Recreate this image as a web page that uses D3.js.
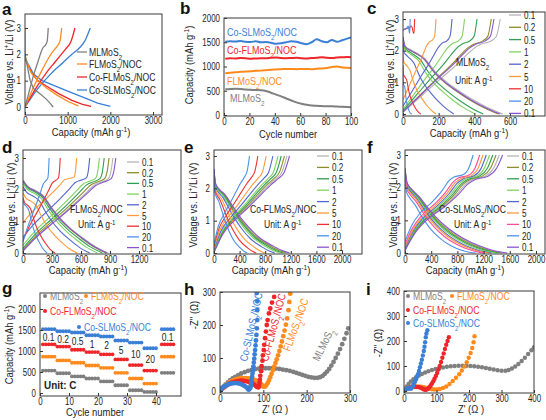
<!DOCTYPE html>
<html><head><meta charset="utf-8">
<script src="https://cdn.jsdelivr.net/npm/d3@7"></script>
<style>body{margin:0;background:#fff}svg{display:block}text{font-family:"Liberation Sans",Arial,sans-serif}</style>
</head><body><svg id="fig" width="546" height="420"></svg>
<script>
// ================= DATA =================
const matNames = ["MLMoS_2", "FLMoS_2/NOC", "Co-FLMoS_2/NOC", "Co-SLMoS_2/NOC"];
const matColors = ["#7f7f7f", "#ff8a1c", "#ee2529", "#3a7fd6"];

// panel a : first cycle discharge / charge (capacity mAh/g, voltage V)
const aDisML   = [[0,2.0],[60,1.5],[120,1.0],[200,0.7],[350,0.5],[500,0.3],[600,0.12],[660,0.0]];
const aDisFL   = [[0,3.0],[2,2.2],[6,1.9],[130,1.35],[300,1.0],[480,0.75],[750,0.45],[1020,0.2],[1250,0.04]];
const aDisCoFL = [[0,1.85],[150,1.3],[300,1.0],[500,0.8],[800,0.5],[1100,0.25],[1350,0.1],[1550,0.02]];
const aDisCoSL = [[0,1.85],[200,1.25],[400,1.0],[700,0.8],[1000,0.6],[1400,0.35],[1700,0.15],[2000,0.02]];
const aChgML   = [[0,0],[100,0.6],[200,1.2],[300,1.7],[380,2.1],[420,2.25],[480,2.35],[520,2.5],[545,3.0]];
const aChgFL   = [[0,0],[200,0.75],[400,1.4],[550,1.85],[650,2.1],[750,2.3],[820,2.5],[860,3.0]];
const aChgCoFL = [[0,0],[250,0.7],[500,1.3],[700,1.7],[850,2.0],[950,2.2],[1080,2.5],[1170,3.0]];
const aChgCoSL = [[0,0],[300,0.7],[600,1.25],[900,1.7],[1100,2.0],[1250,2.2],[1400,2.5],[1530,3.0]];

// panel b : cycling
const bCycles = [1,5,9,13,17,21,25,29,33,37,41,45,49,53,57,61,65,69,73,77,81,85,89,93,97,100];
const bML   = [530,535,540,535,525,520,515,510,495,460,420,385,340,300,260,230,210,195,190,185,180,180,175,170,165,160];
const bFL   = [860,870,880,890,895,900,910,915,925,935,940,945,950,950,945,950,950,945,955,960,970,990,1000,980,975,970];
const bCoFL = [1160,1170,1165,1175,1170,1160,1165,1170,1170,1180,1185,1175,1170,1175,1180,1170,1165,1175,1180,1190,1180,1175,1185,1190,1195,1190];
const bCoSL = [1510,1520,1515,1525,1510,1505,1520,1500,1505,1490,1470,1480,1500,1520,1510,1480,1460,1500,1560,1520,1500,1545,1510,1540,1575,1600];

// panels c-f : rate profiles
const rateLabels = ["0.1","0.2","0.5","1","2","5","10","20","0.1"];
const rateColors  = ["#b3b3b3","#8c8c2a","#2e9e52","#7fd35f","#5566cc","#ff9a3c","#ee3030","#4d92e6","#8a55cc"];
const rateColorsF = ["#b3b3b3","#8c8c2a","#2e9e52","#7fd35f","#5566cc","#ff9a3c","#ff4c9a","#4d92e6","#8a55cc"];

const cDisShape = [[0,2.45],[0.02,2.15],[0.08,2.02],[0.15,1.9],[0.22,1.75],[0.27,1.55],[0.32,1.35],[0.42,1.05],[0.55,0.75],[0.7,0.45],[0.85,0.2],[1,0]];
const cChgShape = [[0,0.05],[0.2,0.6],[0.4,1.15],[0.55,1.55],[0.65,1.85],[0.72,2.05],[0.8,2.2],[0.9,2.3],[0.96,2.45],[1,3.0]];
const cDisCap = [560,535,450,405,285,185,100,50,545];
const cChgCap = [545,495,415,345,275,185,65,40,510];
const cPolDis = [0,0.02,0.06,0.1,0.2,0.5,0.9,1.2,0.02];
const cPolChg = [0,0.02,0.06,0.1,0.2,0.4,2.6,2.6,0.02];

const dDisShape = [[0,2.3],[0.05,2.12],[0.15,1.97],[0.25,1.78],[0.32,1.5],[0.42,1.15],[0.55,0.8],[0.7,0.48],[0.85,0.2],[1,0]];
const dChgShape = [[0,0.05],[0.15,0.5],[0.35,1.0],[0.55,1.5],[0.7,1.9],[0.78,2.12],[0.88,2.25],[0.95,2.35],[0.98,2.6],[1,3.0]];
const dDisCap = [880,860,820,770,690,560,330,250,870];
const dChgCap = [930,890,840,790,690,555,385,270,960];
const dPolDis = [0,0.02,0.05,0.1,0.2,0.4,0.55,0.6,0.02];
const dPolChg = [0,0.05,0.1,0.2,0.45,0.9,0.35,0.3,0.02];

const eDisShape = [[0,2.6],[0.02,2.15],[0.07,1.97],[0.14,1.82],[0.22,1.55],[0.32,1.2],[0.45,0.82],[0.6,0.48],[0.78,0.22],[0.92,0.06],[1,0]];
const eChgShape = [[0,0.02],[0.12,0.6],[0.27,1.0],[0.45,1.4],[0.62,1.8],[0.75,2.1],[0.85,2.3],[0.93,2.5],[1,3.0]];
const eDisCap = [1160,1120,1080,1030,950,800,660,520,1180];
const eChgCap = [1140,1100,1050,1000,920,815,685,555,1180];
const ePolDis = [0,0.02,0.04,0.06,0.1,0.15,0.2,0.25,0];
const ePolChg = [0,0.02,0.04,0.06,0.1,0.15,0.2,0.25,0];

const fDisShape = [[0,2.6],[0.02,2.15],[0.06,1.97],[0.14,1.72],[0.24,1.32],[0.36,0.92],[0.5,0.58],[0.65,0.32],[0.8,0.14],[0.92,0.04],[1,0]];
const fChgShape = [[0,0.08],[0.1,0.6],[0.22,1.0],[0.4,1.4],[0.55,1.8],[0.64,2.1],[0.72,2.25],[0.85,2.35],[0.94,2.6],[1,3.0]];
const fDisCap = [1520,1480,1430,1380,1320,1280,1220,1080,1560];
const fChgCap = [1440,1390,1340,1290,1240,1190,1140,1040,1490];
const fPolDis = [0,0.02,0.03,0.05,0.08,0.12,0.18,0.28,0];
const fPolChg = [0,0.02,0.03,0.05,0.08,0.12,0.18,0.28,0];

// panel g : rate capability (C)
const gRates = ["0.1","0.2","0.5","1","2","5","10","20","0.1"];
const gStart = [1,6,11,16,21,26,31,36,42];
const gML   = [535,470,395,345,275,185,65,25,480];
const gFL   = [865,775,720,655,600,480,345,225,865];
const gCoFL = [1160,1105,1030,975,920,800,665,535,1160];
const gCoSL = [1520,1470,1440,1375,1345,1250,1200,1065,1520];

// panel h : Nyquist (Z', -Z'')
const hML = [[2,3],[5,8],[9,14],[13,20],[18,26],[23,32],[29,38],[35,43],[42,48],[49,53],[57,57],[65,61],[73,64],[81,66],[89,68],[97,69],[105,69],[113,69],[121,69],[129,68],[137,67],[145,65],[153,63],[161,61],[169,58],[176,55],[183,52],[190,49],[197,46],[204,43],[211,41],[218,40],[225,40],[231,42],[237,46],[242,52],[247,59],[252,67],[257,77],[262,88],[267,100],[272,113],[277,127],[282,142],[287,158],[292,175],[296,190]];
const hFL = [[1,2],[4,7],[8,12],[12,17],[16,21],[21,25],[26,29],[31,32],[36,35],[41,37],[46,38],[51,39],[56,39],[61,39],[66,38],[71,37],[76,35],[81,33],[86,30],[90,27],[93,23],[96,19],[98,15],[101,13],[104,14],[107,18],[110,24],[113,32],[116,42],[119,52],[122,63],[125,74],[128,85],[131,96],[134,108],[137,121],[140,135],[143,150],[146,166],[149,183],[152,201],[155,220],[158,245],[160,270],[162,295]];
const hCoFL = [[1,2],[4,6],[8,10],[12,14],[17,18],[22,22],[27,25],[32,27],[37,29],[42,30],[47,31],[52,31],[57,30],[62,29],[67,27],[72,25],[76,22],[80,19],[83,15],[86,12],[89,11],[90,16],[91,24],[92,34],[93,46],[95,60],[96,75],[98,92],[99,108],[101,124],[102,140],[104,160],[106,180],[108,200],[110,215],[113,235],[116,250],[120,268],[125,285]];
const hCoSL = [[1,2],[3,6],[6,10],[10,14],[14,17],[18,20],[23,22],[28,23],[33,24],[38,24],[43,23],[48,21],[53,18],[57,15],[61,11],[64,7],[66,4],[68,6],[70,10],[71,16],[72,24],[73,33],[74,43],[75,53],[76,63],[77,74],[78,86],[79,98],[80,111],[81,124],[82,138],[83,153],[84,170],[85,190],[86,215],[86,245],[86,272],[85,297]];

// panel i : Nyquist
const iML = [[3,8],[8,18],[14,28],[21,38],[29,47],[37,55],[46,62],[55,68],[65,74],[75,79],[86,84],[97,88],[108,91],[120,94],[132,97],[144,99],[156,100],[168,101],[180,101],[192,101],[204,100],[216,99],[228,97],[240,95],[252,92],[264,89],[276,86],[288,83],[300,81],[312,81],[322,84],[332,90],[342,98],[352,108],[362,120],[372,133],[382,148],[392,163],[400,175]];
const iFL = [[2,3],[8,8],[15,12],[22,15],[30,17],[38,18],[46,18],[54,17],[62,15],[70,12],[78,9],[86,7],[94,6],[102,6],[110,8],[120,12],[130,18],[140,28],[150,40],[160,53],[170,67],[178,82],[186,98],[193,115],[199,133],[205,152],[210,172],[214,195],[217,219]];
const iCoFL = [[2,3],[7,7],[13,11],[19,14],[26,16],[33,17],[40,16],[47,15],[53,12],[58,9],[62,6],[66,5],[70,6],[74,10],[78,15],[82,22],[86,30],[90,39],[94,49],[98,60],[102,72],[106,86],[110,100],[114,116],[118,133],[122,150],[126,168],[130,185],[134,200],[138,215]];
const iCoSL = [[1,2],[4,5],[8,8],[12,10],[16,11],[20,10],[22,10],[25,15],[28,22],[31,30],[34,38],[37,47],[40,57],[43,67],[46,80],[49,95],[52,110],[55,125],[58,142],[61,160],[63,177],[65,195],[67,215],[69,230],[72,243]];

// ================= DRAW =================
const SX = 0.82;      // horizontal squeeze of text (figure is condensed)
const SXT = 0.77;     // squeeze of tick labels
const TICKFS = 10.3;
const svg = d3.select("#fig");
let clipN = 0;

function rich(t, s) {
  const parts = s.split(/(_\{[^}]*\}|\^\{[^}]*\}|_.|\^.)/).filter(p => p.length);
  parts.forEach(p => {
    if (p[0] === "_" || p[0] === "^") {
      const body = p[1] === "{" ? p.slice(2, -1) : p.slice(1);
      t.append("tspan").attr("baseline-shift", p[0] === "_" ? "sub" : "super").attr("font-size", "70%").text(body);
    } else t.append("tspan").text(p);
  });
}
function txt(g, x, y, s, o = {}) {
  const grp = g.append("g").attr("transform", `translate(${x},${y}) rotate(${o.rot || 0}) scale(${o.sx ?? SX},1)`);
  const t = grp.append("text").attr("font-size", o.size || 11).attr("fill", o.fill || "#222")
    .attr("text-anchor", o.anchor || "start");
  if (o.weight) t.attr("font-weight", o.weight);
  if (o.family) t.attr("font-family", o.family);
  rich(t, s);
  return t;
}

function panel(o) {
  const g = svg.append("g");
  const x = d3.scaleLinear().domain([o.xc[0], o.xc[1]]).range([o.xc[2], o.xc[3]]);
  const y = d3.scaleLinear().domain([o.yc[0], o.yc[1]]).range([o.yc[2], o.yc[3]]);
  const [bx0, bx1, by0, by1] = o.box;
  const id = "clip" + (clipN++);
  svg.append("clipPath").attr("id", id).append("rect")
    .attr("x", bx0).attr("y", by0).attr("width", bx1 - bx0).attr("height", by1 - by0);
  const plot = g.append("g").attr("clip-path", `url(#${id})`);
  const xa = g.append("g").attr("transform", `translate(0,${by1})`)
    .call(d3.axisBottom(x).tickValues(o.xTicks).tickSize(-3).tickPadding(2).tickFormat(d3.format("d")));
  const ya = g.append("g").attr("transform", `translate(${bx0},0)`)
    .call(d3.axisLeft(y).tickValues(o.yTicks).tickSize(-3).tickPadding(3).tickFormat(d3.format("d")));
  [xa, ya].forEach(a => {
    a.select(".domain").remove();
    a.attr("font-size", TICKFS).attr("font-family", null);
    a.selectAll(".tick line").attr("stroke", "#333");
    a.selectAll(".tick text").attr("fill", "#222").attr("transform", `scale(${SXT},1)`);
  });
  ya.selectAll(".tick text").attr("x", -4 / SXT);
  g.append("rect").attr("x", bx0).attr("y", by0).attr("width", bx1 - bx0).attr("height", by1 - by0)
    .attr("fill", "none").attr("stroke", "#3a3a3a").attr("stroke-width", 1);
  if (o.xTitle) txt(g, o.xTitle[0], o.xTitle[1], o.xTitle[2], { anchor: "middle", size: 11.5 });
  if (o.yTitle) txt(g, o.yTitle[0], o.yTitle[1], o.yTitle[2], { anchor: "middle", size: 11.5, rot: -90 });
  if (o.letter) g.append("text").attr("x", o.letter[0]).attr("y", o.letter[1]).attr("font-size", 17)
    .attr("font-weight", "bold").attr("fill", "#111").text(o.letter[2]);
  return { g, plot, x, y };
}

const line = (P, curve) => d3.line().x(d => P.x(d[0])).y(d => P.y(d[1])).curve(curve || d3.curveMonotoneX);
const VTITLE = "Voltage vs. Li^+/Li (V)";
const CTITLE = "Capacity (mAh g^{-1})";

// ---------- a ----------
{
  const P = panel({ box: [25, 162, 14, 115], xc: [0, 3000, 25, 153], yc: [0, 3, 107, 28],
    xTicks: [0, 1000, 2000, 3000], yTicks: [0, 1, 2, 3],
    xTitle: [91, 136, CTITLE], yTitle: [13, 62, VTITLE], letter: [2, 15, "a"] });
  const dis = [aDisML, aDisFL, aDisCoFL, aDisCoSL], chg = [aChgML, aChgFL, aChgCoFL, aChgCoSL];
  [3, 2, 1, 0].forEach(k => {
    P.plot.append("path").attr("d", line(P, d3.curveLinear)(dis[k])).attr("fill", "none").attr("stroke", matColors[k]).attr("stroke-width", 1.3);
    P.plot.append("path").attr("d", line(P)(chg[k])).attr("fill", "none").attr("stroke", matColors[k]).attr("stroke-width", 1.3);
  });
  const ly = [52, 64, 77, 90];
  matNames.forEach((n, k) => {
    P.g.append("line").attr("x1", 77).attr("x2", 87).attr("y1", ly[k]).attr("y2", ly[k]).attr("stroke", matColors[k]).attr("stroke-width", 1.3);
    txt(P.g, 89, ly[k] + 4, n, { size: 10.5 });
  });
}

// ---------- b ----------
{
  const P = panel({ box: [224, 351, 18, 116], xc: [0, 100, 224, 351], yc: [0, 2000, 115, 18],
    xTicks: [0, 20, 40, 60, 80, 100], yTicks: [0, 500, 1000, 1500, 2000],
    xTitle: [288, 138, "Cycle number"], yTitle: [193, 65, CTITLE], letter: [180, 14, "b"] });
  const ser = [bML, bFL, bCoFL, bCoSL];
  ser.forEach((s, k) => {
    P.plot.append("path").attr("d", line(P)(bCycles.map((c, i) => [c, s[i]])))
      .attr("fill", "none").attr("stroke", matColors[k]).attr("stroke-width", 2);
  });
  const pos = [[230, 102], [227, 85], [227, 54], [227, 36]];
  matNames.forEach((n, k) => txt(P.g, pos[k][0], pos[k][1], n, { fill: matColors[k], size: 11 }));
}

// ---------- c-f ----------
function ratePanel(opt, disShape, chgShape, disCap, chgCap, polDis, polChg, colors, name, namePos, unitPos, leg) {
  const P = panel(opt);
  rateLabels.forEach((r, k) => {
    const dis = disShape.map(([f, v]) => [f * disCap[k], Math.max(0, v - polDis[k] * (1 - f))]);
    const chg = chgShape.map(([f, v]) => [f * chgCap[k], Math.min(3, v + polChg[k] * (1 - f))]);
    [dis, chg].forEach(c => P.plot.append("path").attr("d", line(P)(c)).attr("fill", "none")
      .attr("stroke", colors[k]).attr("stroke-width", 1.1));
  });
  rateLabels.forEach((r, k) => {
    const yy = leg.y0 + k * leg.dy;
    P.g.append("line").attr("x1", leg.x0).attr("x2", leg.x0 + 12).attr("y1", yy).attr("y2", yy).attr("stroke", colors[k]).attr("stroke-width", 1.3);
    txt(P.g, leg.x0 + 15, yy + 4, r, { size: 10.5, sx: SXT });
  });
  txt(P.g, namePos[0], namePos[1], name, { size: 10.5 });
  txt(P.g, unitPos[0], unitPos[1], "Unit: A g^{-1}", { size: 10.5 });
}
ratePanel({ box: [403, 545, 12, 116], xc: [0, 600, 403, 510], yc: [0, 3, 114, 19],
  xTicks: [0, 200, 400, 600], yTicks: [0, 1, 2, 3],
  xTitle: [469, 137, CTITLE], yTitle: [394, 62, VTITLE], letter: [367, 14, "c"] },
  cDisShape, cChgShape, cDisCap, cChgCap, cPolDis, cPolChg, rateColors, "MLMoS_2", [456, 66], [455, 84],
  { x0: 509, y0: 15, dy: 12.3 });
ratePanel({ box: [23, 181, 150, 254], xc: [0, 1200, 23, 139], yc: [0, 3, 253, 158],
  xTicks: [0, 300, 600, 900, 1200], yTicks: [0, 1, 2, 3],
  xTitle: [88, 274, CTITLE], yTitle: [15, 205, VTITLE], letter: [2, 153, "d"] },
  dDisShape, dChgShape, dDisCap, dChgCap, dPolDis, dPolChg, rateColors, "FLMoS_2/NOC", [70, 213], [78, 228],
  { x0: 127, y0: 162, dy: 10.7 });
ratePanel({ box: [214, 362, 150, 254], xc: [0, 2000, 214, 342], yc: [0, 3, 253, 156],
  xTicks: [0, 400, 800, 1200, 1600, 2000], yTicks: [0, 1, 2, 3],
  xTitle: [271, 274, CTITLE], yTitle: [197, 205, VTITLE], letter: [184, 153, "e"] },
  eDisShape, eChgShape, eDisCap, eChgCap, ePolDis, ePolChg, rateColors, "Co-FLMoS_2/NOC", [250, 213], [264, 228],
  { x0: 317, y0: 156, dy: 11.4 });
ratePanel({ box: [405, 545, 150, 254], xc: [0, 2000, 405, 536], yc: [0, 3, 253, 155],
  xTicks: [0, 400, 800, 1200, 1600, 2000], yTicks: [0, 1, 2, 3],
  xTitle: [465, 274, CTITLE], yTitle: [397, 205, VTITLE], letter: [367, 153, "f"] },
  fDisShape, fChgShape, fDisCap, fChgCap, fPolDis, fPolChg, rateColorsF, "Co-SLMoS_2/NOC", [439, 213], [454, 228],
  { x0: 507, y0: 156, dy: 11.4 });

// ---------- g ----------
{
  const P = panel({ box: [40, 181, 293, 396], xc: [0, 40, 40, 156], yc: [0, 2000, 393, 309],
    xTicks: [0, 10, 20, 30, 40], yTicks: [0, 500, 1000, 1500, 2000],
    xTitle: [95, 416, "Cycle number"], yTitle: [13, 345, CTITLE], letter: [2, 294, "g"] });
  const ser = [gML, gFL, gCoFL, gCoSL];
  ser.forEach((s, k) => {
    const pts = [];
    gStart.forEach((c0, j) => { for (let m = 0; m < 5; m++) pts.push([c0 + m, s[j]]); });
    P.plot.selectAll(null).data(pts).enter().append("circle")
      .attr("cx", d => P.x(d[0])).attr("cy", d => P.y(d[1])).attr("r", 1.9).attr("fill", matColors[k]);
  });
  gRates.forEach((r, j) => {
    const cx = gStart[j] + 2;
    txt(P.g, P.x(cx), P.y((gCoFL[j] + gCoSL[j]) / 2) + 4, r, { anchor: "middle", size: 11, sx: SXT });
  });
  const leg = [[45, 296], [86, 296], [45, 311], [79, 327]];
  matNames.forEach((n, k) => {
    P.g.append("circle").attr("cx", leg[k][0]).attr("cy", leg[k][1]).attr("r", 2).attr("fill", matColors[k]);
    txt(P.g, leg[k][0] + 5, leg[k][1] + 4, n, { fill: matColors[k], size: 10.5 });
  });
  txt(P.g, 44, 389, "Unit: C", { size: 11, weight: "bold", family: '"Liberation Serif", "Times New Roman", serif', sx: 0.9 });
}

// ---------- h ----------
{
  const P = panel({ box: [220, 350, 292, 393], xc: [0, 300, 220, 350], yc: [0, 300, 391, 292],
    xTicks: [0, 100, 200, 300], yTicks: [0, 100, 200, 300],
    xTitle: [275, 413, "Z' (Ω )"], yTitle: [198, 315, "-Z'' (Ω)"], letter: [184, 295, "h"] });
  const ser = [hML, hFL, hCoFL, hCoSL];
  ser.forEach((s, k) => P.plot.selectAll(null).data(s).enter().append("circle")
    .attr("cx", d => P.x(d[0])).attr("cy", d => P.y(d[1])).attr("r", 2.4).attr("fill", matColors[k]));
  const lab = [[319, 362, -64], [290, 352, -70], [268, 362, -75], [247, 362, -77]];
  matNames.forEach((n, k) => txt(P.g, lab[k][0], lab[k][1], n, { fill: matColors[k], size: 11, rot: lab[k][2] }));
}

// ---------- i ----------
{
  const P = panel({ box: [404, 534, 291, 393], xc: [0, 400, 404, 534], yc: [0, 400, 391, 291],
    xTicks: [0, 100, 200, 300, 400], yTicks: [0, 100, 200, 300, 400],
    xTitle: [471, 413, "Z' (Ω )"], yTitle: [382, 343, "-Z'' (Ω)"], letter: [366, 295, "i"] });
  const ser = [iML, iFL, iCoFL, iCoSL];
  ser.forEach((s, k) => P.plot.selectAll(null).data(s).enter().append("circle")
    .attr("cx", d => P.x(d[0])).attr("cy", d => P.y(d[1])).attr("r", 2.2).attr("fill", matColors[k]));
  const leg = [[408, 296], [452, 296], [408, 310], [408, 323]];
  matNames.forEach((n, k) => {
    P.g.append("circle").attr("cx", leg[k][0]).attr("cy", leg[k][1]).attr("r", 2).attr("fill", matColors[k]);
    txt(P.g, leg[k][0] + 5, leg[k][1] + 4, n, { fill: matColors[k], size: 10.5 });
  });
}
</script></body></html>
